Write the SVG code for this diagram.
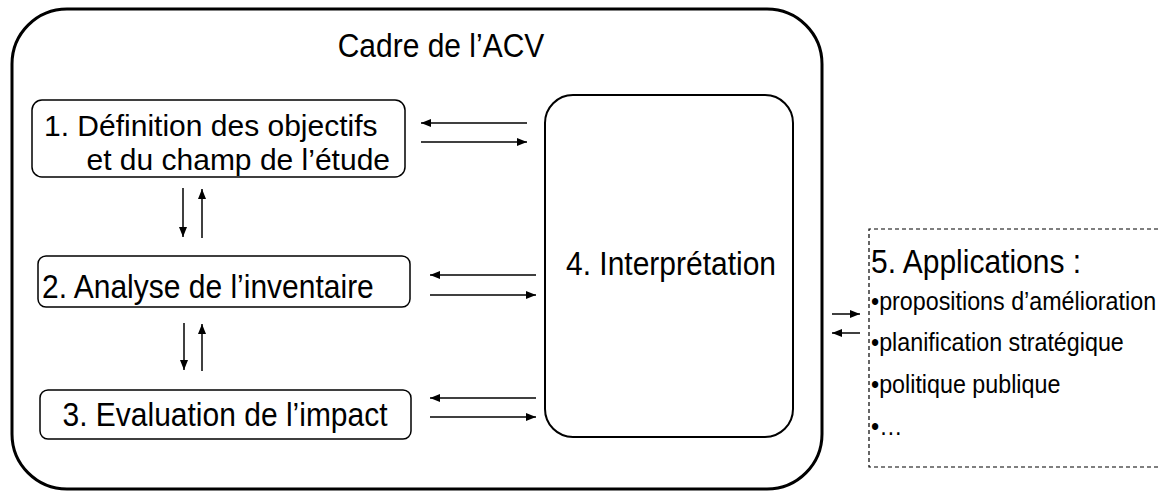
<svg xmlns="http://www.w3.org/2000/svg" width="1160" height="491" viewBox="0 0 1160 491">
<style>
text{font-family:"Liberation Sans",Arial,sans-serif;fill:#000}
.t30{font-size:30px}
.t23{font-size:23.3px}
.box{fill:none;stroke:#000;stroke-width:1.5}
.arr{stroke:#000;stroke-width:1.5;fill:none;marker-end:url(#ah)}
</style>
<defs>
<marker id="ah" viewBox="0 0 10 8" refX="10" refY="4" markerWidth="10" markerHeight="8" markerUnits="userSpaceOnUse" orient="auto">
<path d="M0,0 L10,4 L0,8 Z" fill="#000"/>
</marker>
</defs>
<rect width="1160" height="491" fill="#fff"/>
<g id="frame">
<rect x="12" y="9" width="810" height="480" rx="55" ry="55" fill="none" stroke="#000" stroke-width="3"/>
<text class="t30" transform="translate(441 57) scale(1 1.12)" text-anchor="middle">Cadre de l’ACV</text>
</g>
<g id="n1">
<rect class="box" x="32" y="100" width="373" height="77" rx="10"/>
<text class="t30" x="44" y="136">1. Définition des objectifs</text>
<text class="t30" x="390" y="169.5" text-anchor="end">et du champ de l’étude</text>
</g>
<g id="n2">
<rect class="box" x="38" y="256" width="372" height="51" rx="8"/>
<text class="t30" transform="translate(42 298) scale(1 1.12)">2. Analyse de l’inventaire</text>
</g>
<g id="n3">
<rect class="box" x="40" y="390" width="371" height="49" rx="8"/>
<text class="t30" transform="translate(225 426) scale(1 1.12)" text-anchor="middle">3. Evaluation de l’impact</text>
</g>
<g id="n4">
<rect x="545" y="95" width="248" height="342" rx="28" fill="none" stroke="#000" stroke-width="2"/>
<text class="t30" transform="translate(671 275) scale(1 1.12)" text-anchor="middle">4. Interprétation</text>
</g>
<g id="n5">
<path d="M1165,229 H869 V467 H1165" fill="none" stroke="#000" stroke-width="1.2" stroke-dasharray="4 3"/>
<text class="t30" transform="translate(871 273) scale(1 1.12)">5. Applications :</text>
<text class="t23" transform="translate(871 310) scale(1 1.12)">•propositions d’amélioration</text>
<text class="t23" transform="translate(871 351) scale(1 1.12)">•planification stratégique</text>
<text class="t23" transform="translate(871 393) scale(1 1.12)">•politique publique</text>
<text class="t23" transform="translate(871 435) scale(1 1.12)">•…</text>
</g>
<g id="connectors">
<line class="arr" x1="527" y1="123" x2="421" y2="123"/>
<line class="arr" x1="421" y1="142" x2="527" y2="142"/>
<line class="arr" x1="536" y1="275" x2="430" y2="275"/>
<line class="arr" x1="430" y1="295" x2="536" y2="295"/>
<line class="arr" x1="536" y1="398" x2="430" y2="398"/>
<line class="arr" x1="430" y1="417" x2="536" y2="417"/>
<line class="arr" x1="183" y1="188" x2="183" y2="237"/>
<line class="arr" x1="202" y1="238" x2="202" y2="189"/>
<line class="arr" x1="184" y1="323" x2="184" y2="370"/>
<line class="arr" x1="202" y1="371" x2="202" y2="324"/>
<line class="arr" x1="832" y1="314" x2="860" y2="314"/>
<line class="arr" x1="860" y1="333" x2="832" y2="333"/>
</g>
</svg>
